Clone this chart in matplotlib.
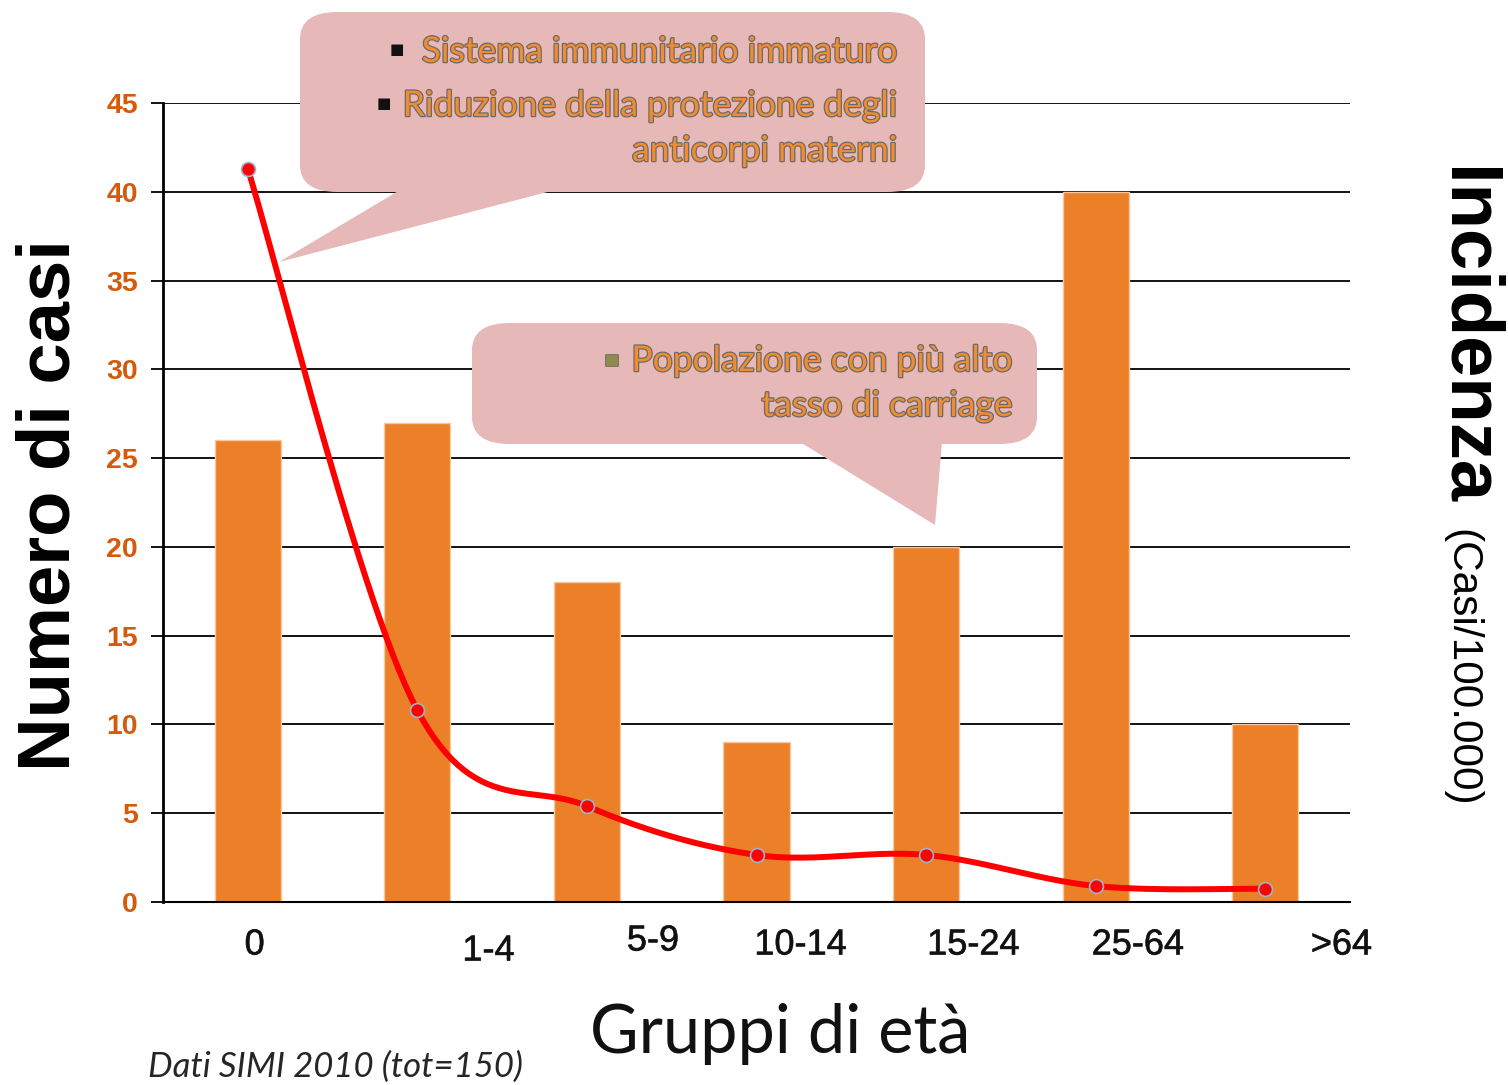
import matplotlib.pyplot as plt
import matplotlib.patheffects as pe
from matplotlib.patches import FancyBboxPatch, Polygon
import numpy as np

# Data
gruppi = ["0", "1-4", "5-9", "10-14", "15-24", "25-64", ">64"]
casi = [26, 27, 18, 9, 20, 40, 10]
incidenza = [41.3, 10.8, 5.4, 2.65, 2.65, 0.9, 0.75]
# where the slide puts the category labels (in category units)
label_pos = [0.04, 1.42, 2.39, 3.26, 4.28, 5.25, 6.45]
label_dy = [0, 6, -4, 0, 0, 0, 0]

bar_color = "#EC8028"
tick_color = "#D55A0C"
W, H = 1508, 1085


def px(x, y):
    # pixel position -> figure fraction
    return x / W, 1 - y / H


def smooth(xs, ys, n=30):
    # excel-like smoothed line (catmull-rom as cubic bezier)
    xs = np.asarray(xs, float)
    ys = np.asarray(ys, float)
    pts = np.column_stack([xs, ys])
    out = []
    for i in range(len(pts) - 1):
        p0 = pts[max(i - 1, 0)]
        p1 = pts[i]
        p2 = pts[i + 1]
        p3 = pts[min(i + 2, len(pts) - 1)]
        c1 = p1 + (p2 - p0) / 6
        c2 = p2 - (p3 - p1) / 6
        t = np.linspace(0, 1, n)[:, None]
        seg = ((1 - t) ** 3) * p1 + 3 * ((1 - t) ** 2) * t * c1 + 3 * (1 - t) * t ** 2 * c2 + t ** 3 * p2
        out.append(seg if i == 0 else seg[1:])
    seg = np.vstack(out)
    return seg[:, 0], seg[:, 1]


fig = plt.figure(figsize=(15.08, 10.85), dpi=100)
ax = fig.add_axes([163 / W, 1 - 902 / H, (1350 - 163) / W, (902 - 103) / H])

x = np.arange(len(gruppi))
ax.bar(x, casi, width=0.39, color=bar_color, edgecolor="#F6C9A2", linewidth=1, zorder=2)

ax.set_xlim(-0.5, len(gruppi) - 0.5)
ax.set_ylim(0, 45)
ax.set_yticks(np.arange(0, 46, 5))
ax.yaxis.grid(True, color="black", linewidth=1.3, zorder=0)
ax.set_axisbelow(True)
ax.tick_params(axis="y", length=9, width=1.3, pad=9, labelsize=20.5, labelcolor=tick_color)
for lab in ax.get_yticklabels():
    lab.set_fontweight("bold")
    lab.set_fontfamily("Liberation Sans")
ax.set_xticks([])
for s in ["top", "right"]:
    ax.spines[s].set_visible(False)
ax.spines["left"].set_linewidth(2)
ax.spines["bottom"].set_linewidth(1.5)

# category labels, placed like on the slide
for lab, p, dy in zip(gruppi, label_pos, label_dy):
    ax.annotate(lab, xy=(p, 0), xycoords=("data", "axes fraction"),
                xytext=(0, -43 - dy), textcoords="offset pixels",
                ha="center", va="center", fontsize=26,
                family="Liberation Sans", color="#111111",
                path_effects=[pe.withStroke(linewidth=0.5, foreground="#333333")])

# smoothed incidence line
sx, sy = smooth(x, incidenza)
ax.plot(sx, sy, color="#FF0000", linewidth=4.3, zorder=5, solid_capstyle="round")
ax.plot(x, incidenza, "o", color="#FF0000", markersize=10,
        markeredgecolor="#9DB3CC", markeredgewidth=1.2, zorder=6)

# callouts
pink = "#E6B8B7"
box1 = FancyBboxPatch(px(300, 192), (925 - 300) / W, (192 - 12) / H,
                      boxstyle="round,pad=0,rounding_size=0.025",
                      transform=fig.transFigure, facecolor=pink, edgecolor="none", zorder=3)
tail1 = Polygon([px(400, 190), px(555, 190), px(279, 262)], closed=True,
                transform=fig.transFigure, facecolor=pink, edgecolor="none", zorder=3)
box2 = FancyBboxPatch(px(472, 444), (1037 - 472) / W, (444 - 323) / H,
                      boxstyle="round,pad=0,rounding_size=0.025",
                      transform=fig.transFigure, facecolor=pink, edgecolor="none", zorder=3)
tail2 = Polygon([px(800, 442), px(942, 442), px(935, 525)], closed=True,
                transform=fig.transFigure, facecolor=pink, edgecolor="none", zorder=3)
for p in [box1, tail1, box2, tail2]:
    fig.add_artist(p)

stroke = [pe.withStroke(linewidth=1.8, foreground="#6B6B6B")]
txt = dict(fontsize=25.5, family="Lato", color="#F28C30", path_effects=stroke,
           ha="right", va="center", zorder=7)
fig.text(*px(897, 52), "Sistema immunitario immaturo", **txt)
fig.text(*px(897, 106), "Riduzione della protezione degli", **txt)
fig.text(*px(897, 151), "anticorpi materni", **txt)
fig.text(*px(1012, 361), "Popolazione con più alto", **txt)
fig.text(*px(1012, 406), "tasso di carriage", **txt)

bul = dict(fontsize=11, family="DejaVu Sans", ha="center", va="center", zorder=7)
fig.text(*px(397, 50), "■", color="#111111", **bul)
fig.text(*px(384, 104), "■", color="#111111", **bul)
fig.text(*px(612, 360), "■", color="#8E8A50",
         path_effects=[pe.withStroke(linewidth=1.2, foreground="#666666")], **bul)

# axis titles
fig.text(*px(50, 505), "Numero di casi", rotation=90, ha="center", va="center",
         fontsize=53.5, fontweight="bold", family="Liberation Sans")
fig.text(*px(1466, 336), "Incidenza", rotation=-90, ha="center", va="center",
         fontsize=53.5, fontweight="bold", family="Liberation Sans")
fig.text(*px(1461, 668), "(Casi/100.000)", rotation=-90, ha="center", va="center",
         fontsize=30.5, family="Liberation Sans")
fig.text(*px(780, 1034), "Gruppi di età", ha="center", va="center",
         fontsize=48, family="Lato", color="#111111")
fig.text(*px(336, 1067), "Dati SIMI 2010 (tot=150)", ha="center", va="center",
         fontsize=25, family="Lato", style="italic", color="#262626")

plt.savefig("out.png", dpi=100)
